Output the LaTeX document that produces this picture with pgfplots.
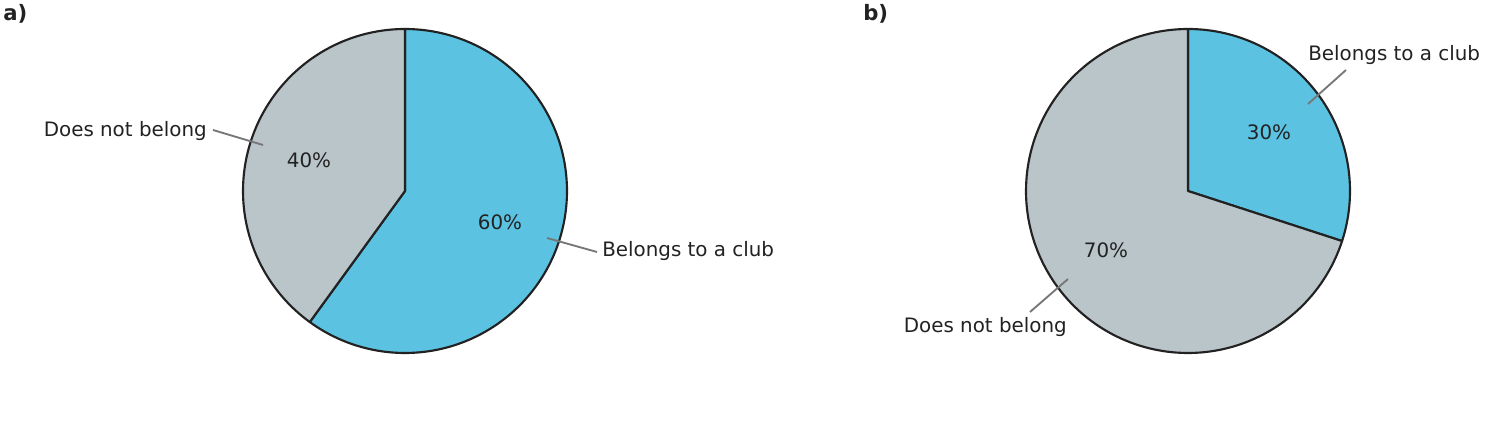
\documentclass[border=0pt]{standalone}
\usepackage{pgfplots}
\usepackage{pgfplotstable}
\pgfplotsset{compat=1.18}
\usepackage{fontspec}
\setmainfont{DejaVu Sans}
\definecolor{pieblue}{HTML}{5BC2E1}
\definecolor{piegray}{HTML}{BAC5CA}
\definecolor{pieedge}{HTML}{222222}
\definecolor{txt}{HTML}{222222}
\definecolor{leader}{HTML}{777777}

\pgfplotstableread{
group club notclub
a 60 40
b 30 70
}\piedata

\begin{document}%
\begin{tikzpicture}[font=\fontsize{14.9pt}{17pt}\selectfont]
\pgfplotstablegetelem{0}{club}\of\piedata \let\aclub\pgfplotsretval
\pgfplotstablegetelem{1}{club}\of\piedata \let\bclub\pgfplotsretval
\pgfplotstablegetelem{0}{notclub}\of\piedata \let\anot\pgfplotsretval
\pgfplotstablegetelem{1}{notclub}\of\piedata \let\bnot\pgfplotsretval
\pgfmathsetmacro{\aend}{90-3.6*\aclub}
\pgfmathsetmacro{\bend}{90-3.6*\bclub}
\begin{axis}[
  scale only axis, width=1122.75pt, height=329.25pt,
  xmin=0, xmax=1497, ymin=0, ymax=439,
  hide axis, clip=false, enlargelimits=false,
]
% pie a
\addplot[fill=pieblue, draw=pieedge, line width=1.6pt, line join=round, domain=90:\aend, samples=150, variable=\t]
  ({405+162*cos(\t)},{248+162*sin(\t)}) -- (axis cs:405,248) -- cycle;
\addplot[fill=piegray, draw=pieedge, line width=1.6pt, line join=round, domain=\aend:-270, samples=150, variable=\t]
  ({405+162*cos(\t)},{248+162*sin(\t)}) -- (axis cs:405,248) -- cycle;
% pie b
\addplot[fill=pieblue, draw=pieedge, line width=1.6pt, line join=round, domain=90:\bend, samples=150, variable=\t]
  ({1188+162*cos(\t)},{248+162*sin(\t)}) -- (axis cs:1188,248) -- cycle;
\addplot[fill=piegray, draw=pieedge, line width=1.6pt, line join=round, domain=\bend:-270, samples=150, variable=\t]
  ({1188+162*cos(\t)},{248+162*sin(\t)}) -- (axis cs:1188,248) -- cycle;
% leader lines
\draw[leader, line width=1.4pt] (axis cs:547,201) -- (axis cs:597,187);
\draw[leader, line width=1.4pt] (axis cs:213,309) -- (axis cs:263,294);
\draw[leader, line width=1.4pt] (axis cs:1346,369) -- (axis cs:1308,335);
\draw[leader, line width=1.4pt] (axis cs:1030,127) -- (axis cs:1068,160);
% labels
\node[txt, anchor=west, inner sep=0pt] at (axis cs:602,187.5) {Belongs to a club};
\node[txt, anchor=east, inner sep=0pt] at (axis cs:207,307.5) {Does not belong};
\node[txt, inner sep=0pt] at (axis cs:500,217) {\aclub\%};
\node[txt, inner sep=0pt] at (axis cs:309,279) {\anot\%};
\node[txt, anchor=west, inner sep=0pt] at (axis cs:1308,383.5) {Belongs to a club};
\node[txt, anchor=east, inner sep=0pt] at (axis cs:1067,111.5) {Does not belong};
\node[txt, inner sep=0pt] at (axis cs:1269,307) {\bclub\%};
\node[txt, inner sep=0pt] at (axis cs:1106,189) {\bnot\%};
\node[txt, anchor=west, inner sep=0pt, font=\fontsize{15.9pt}{18pt}\selectfont\bfseries] at (axis cs:3,425) {a)};
\node[txt, anchor=west, inner sep=0pt, font=\fontsize{15.9pt}{18pt}\selectfont\bfseries] at (axis cs:863,425) {b)};
\end{axis}
\pgfresetboundingbox
\path (current axis.south west) (current axis.north east);
\end{tikzpicture}%
\end{document}
